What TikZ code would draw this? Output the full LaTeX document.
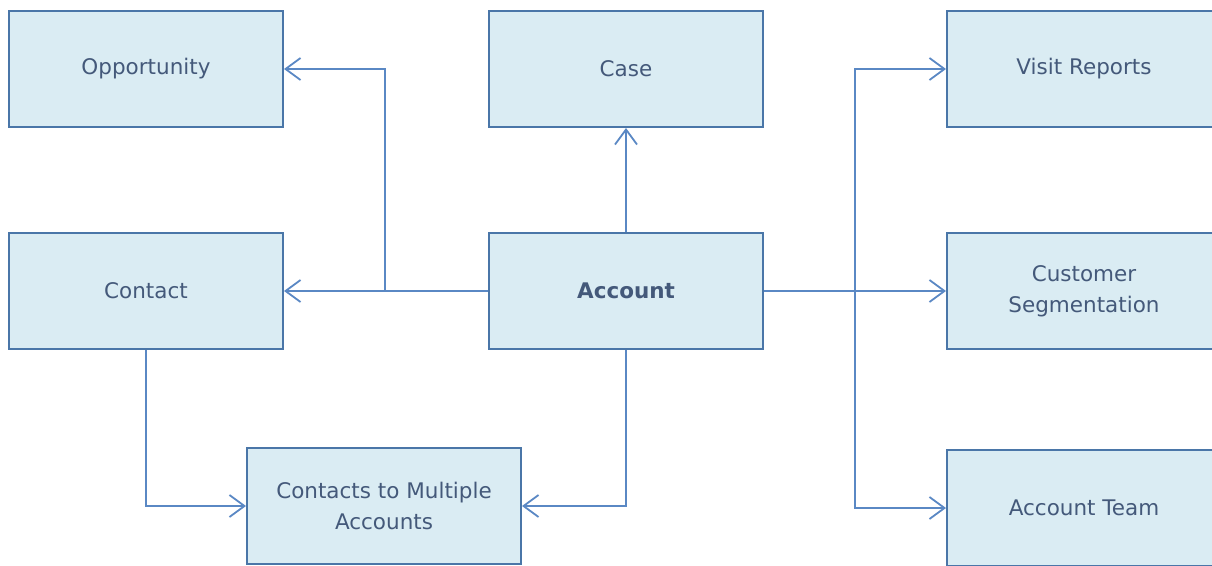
\documentclass[tikz,border=0pt]{standalone}
\usepackage{fontspec}
\setmainfont{DejaVu Sans}
\usetikzlibrary{arrows.meta}
\definecolor{boxfill}{HTML}{DAECF3}
\definecolor{boxline}{HTML}{4A76A8}
\definecolor{conn}{HTML}{5A88C4}
\definecolor{txt}{HTML}{44597A}
\tikzset{
  entity/.style={draw=boxline, line width=2pt, fill=boxfill, minimum width=274pt, minimum height=116pt,
    inner sep=0pt, align=center, text=txt, font=\fontsize{21.5}{31}\selectfont},
  link/.style={draw=conn, line width=2pt, -{Straight Barb[length=15pt,width=22pt,line width=1.8pt]}}
}
\begin{document}
\begin{tikzpicture}[x=1pt,y=-1pt]
\useasboundingbox (0,0) rectangle (1212,565);
\clip (0,0) rectangle (1212,565);
\node[entity] (opp) at (146,69) {Opportunity};
\node[entity] (case) at (626,69) {Case};
\node[entity] (visit) at (1084,69) {Visit Reports};
\node[entity] (contact) at (146,291) {Contact};
\node[entity, font=\fontsize{21.5}{31}\selectfont\bfseries] (acc) at (626,291) {Account};
\node[entity] (seg) at (1084,291) {Customer\\Segmentation};
\node[entity] (multi) at (384,506) {Contacts to Multiple\\Accounts};
\node[entity] (team) at (1084,508) {Account Team};
\coordinate (jl) at (385,291);
\coordinate (jr) at (855,291);
\draw[link] (acc.west) -- (contact.east);
\draw[link] (jl) |- (opp.east);
\draw[link] (acc.north) -- (case.south);
\draw[link] (acc.east) -- (seg.west);
\draw[link] (jr) |- (visit.west);
\draw[link] (jr) |- (team.west);
\draw[link] (contact.south) |- (multi.west);
\draw[link] (acc.south) |- (multi.east);
\end{tikzpicture}
\end{document}
